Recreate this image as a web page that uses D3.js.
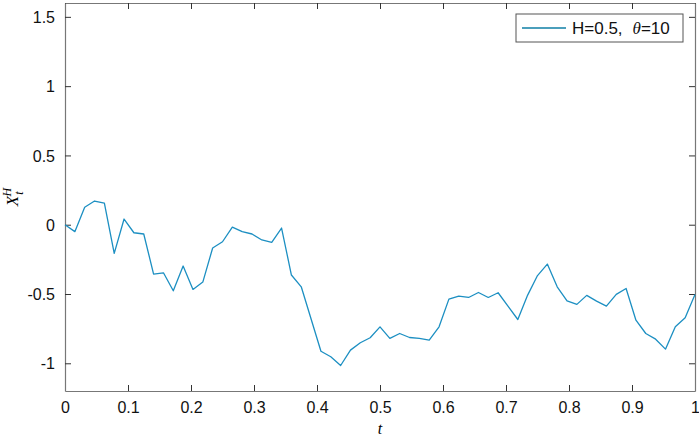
<!DOCTYPE html>
<html>
<head>
<meta charset="utf-8">
<script src="https://cdn.jsdelivr.net/npm/d3@7"></script>
<style>
  html, body { margin: 0; padding: 0; background: #fff; }
  svg { display: block; }
  .tick text { font-family: "Liberation Sans", Arial, sans-serif; font-size: 16px; fill: #111; }
</style>
</head>
<body>
<svg id="chart" width="699" height="436"></svg>
<script>
// sample path, 65 points on [0, 1]
const tSteps = 64;
const xValues = [
  0.00, -0.05, 0.126, 0.171, 0.155, -0.207, 0.041, -0.058, -0.067, -0.356,
  -0.347, -0.477, -0.298, -0.467, -0.414, -0.168, -0.123, -0.017, -0.05, -0.067,
  -0.11, -0.127, -0.024, -0.363, -0.448, -0.68, -0.913, -0.953, -1.016, -0.905,
  -0.852, -0.816, -0.737, -0.82, -0.785, -0.814, -0.82, -0.833, -0.737, -0.537,
  -0.515, -0.525, -0.489, -0.525, -0.491, -0.587, -0.684, -0.508, -0.367, -0.284,
  -0.448, -0.549, -0.575, -0.51, -0.551, -0.587, -0.503, -0.46, -0.689, -0.785,
  -0.826, -0.898, -0.737, -0.672, -0.503
];
const xTicks = [0, 0.1, 0.2, 0.3, 0.4, 0.5, 0.6, 0.7, 0.8, 0.9, 1];
const yTicks = [-1, -0.5, 0, 0.5, 1, 1.5];
const legendLabel = 'H=0.5,';

const lineColor = '#1c8fc2';
const axisColor = '#777';

const margin = { left: 65, right: 3, top: 3, bottom: 45 };
const W = 699, H = 436;
const svg = d3.select('#chart');

const x = d3.scaleLinear().domain([0, 1]).range([margin.left, W - margin.right - 1]);
const y = d3.scaleLinear().domain([-1.2, 1.6]).range([H - margin.bottom, margin.top]);

const fmt = d => String(d);

// axes (box with inward ticks, MATLAB style)
const axB = svg.append('g').attr('transform', `translate(0,${y(-1.2)})`)
  .call(d3.axisBottom(x).tickValues(xTicks).tickFormat(fmt).tickSizeInner(-6).tickSizeOuter(0).tickPadding(11));
const axT = svg.append('g').attr('transform', `translate(0,${y(1.6)})`)
  .call(d3.axisTop(x).tickValues(xTicks).tickFormat('').tickSizeInner(-6).tickSizeOuter(0));
const axL = svg.append('g').attr('transform', `translate(${x(0)},0)`)
  .call(d3.axisLeft(y).tickValues(yTicks).tickFormat(fmt).tickSizeInner(-6).tickSizeOuter(0).tickPadding(10));
const axR = svg.append('g').attr('transform', `translate(${x(1)},0)`)
  .call(d3.axisRight(y).tickValues(yTicks).tickFormat('').tickSizeInner(-6).tickSizeOuter(0));

[axB, axT, axL, axR].forEach(a => {
  a.select('.domain').attr('stroke', axisColor).attr('stroke-width', 1.2);
  a.selectAll('.tick line').attr('stroke', '#333').attr('stroke-width', 1);
  a.attr('font-family', null).attr('font-size', null);
});
axL.selectAll('.tick text').attr('dy', '0.35em');

// data line
const line = d3.line()
  .x((d, i) => x(i / tSteps))
  .y(d => y(d));

svg.append('path')
  .datum(xValues)
  .attr('fill', 'none')
  .attr('stroke', lineColor)
  .attr('stroke-width', 1.3)
  .attr('stroke-linejoin', 'round')
  .attr('d', line);

// axis labels
svg.append('text')
  .attr('x', x(0.5))
  .attr('y', 434)
  .attr('text-anchor', 'middle')
  .attr('font-family', '"Liberation Serif", "Times New Roman", serif')
  .attr('font-style', 'italic')
  .attr('font-size', 16)
  .text('t');

const yl = svg.append('text')
  .attr('transform', `translate(18,${y(0.2)}) rotate(-90)`)
  .attr('text-anchor', 'middle')
  .attr('font-family', '"Liberation Serif", "Times New Roman", serif')
  .attr('font-style', 'italic')
  .attr('font-size', 17);
yl.append('tspan').text('X');
yl.append('tspan').attr('font-size', 12).attr('dy', 5).attr('dx', 1).text('t');
yl.append('tspan').attr('font-size', 12).attr('dy', -12).attr('dx', -5).text('H');

// legend
const lg = svg.append('g');
lg.append('rect')
  .attr('x', 516).attr('y', 14).attr('width', 167).attr('height', 28)
  .attr('fill', '#fff').attr('stroke', '#555').attr('stroke-width', 1);
lg.append('line')
  .attr('x1', 522).attr('x2', 566).attr('y1', 28).attr('y2', 28)
  .attr('stroke', '#0f7fa6').attr('stroke-width', 1.3);
const lt = lg.append('text')
  .attr('x', 572).attr('y', 34)
  .attr('font-family', '"Liberation Sans", Arial, sans-serif')
  .attr('font-size', 17).attr('fill', '#111');
lt.append('tspan').text(legendLabel);
lt.append('tspan').attr('dx', 10)
  .attr('font-family', '"Liberation Serif", "Times New Roman", serif')
  .attr('font-style', 'italic').text('θ');
lt.append('tspan').text('=10');
</script>
</body>
</html>
